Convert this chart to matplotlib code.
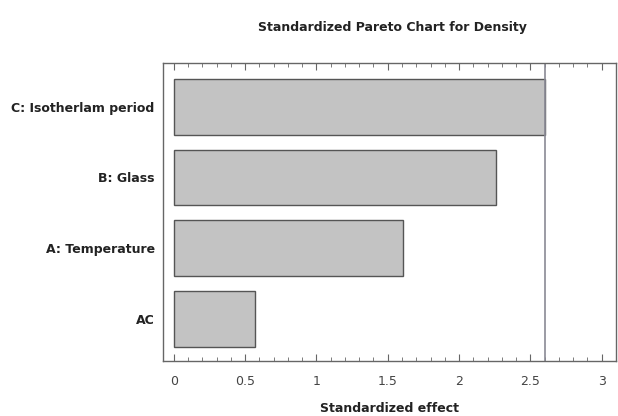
import matplotlib
matplotlib.use("Agg")
import matplotlib.pyplot as plt
from matplotlib.ticker import MultipleLocator

plt.rcParams['font.family'] = ['Liberation Sans Narrow', 'DejaVu Sans']

factors = ["AC", "A: Temperature", "B: Glass", "C: Isotherlam period"]
effects = [0.57, 1.61, 2.26, 2.60]
critical = 2.605
xticks = [0, 0.5, 1, 1.5, 2, 2.5, 3]
xtick_labels = ["0", "0.5", "1", "1.5", "2", "2.5", "3"]

fig = plt.figure(figsize=(6.18, 4.16), dpi=100)
ax = fig.add_axes([163/618, 1-361/416, (616-163)/618, (361-63)/416])

ypos = list(range(len(factors)))
ax.barh(ypos, effects, height=0.79, color="#c3c3c3", edgecolor="#555555", linewidth=1.0)
ax.axvline(critical, color="#8a8a95", linewidth=1.2)

ax.set_xlim(-0.075, 3.1)
ax.set_ylim(-0.6, 3.62)
ax.set_yticks(ypos)
ax.set_yticklabels(factors, fontsize=9, fontweight='bold', color="#222222")
ax.tick_params(axis='y', length=0, pad=6)
ax.set_xticks(xticks)
ax.set_xticklabels(xtick_labels, fontsize=9, color="#444444")
ax.xaxis.set_minor_locator(MultipleLocator(0.1))
ax.tick_params(axis='x', which='both', direction='in', top=True, bottom=True, color="#666666", pad=10)
ax.tick_params(axis='x', which='major', length=5)
ax.tick_params(axis='x', which='minor', length=3)
for s in ax.spines.values():
    s.set_color("#666666")
    s.set_linewidth(1.0)

ax.set_xlabel("Standardized effect", fontsize=9, fontweight='bold', color="#222222", labelpad=10)
fig.text(392/618, 1-28/416, "Standardized Pareto Chart for Density", ha='center', va='center',
         fontsize=9, fontweight='bold', color="#222222")

fig.savefig("out.png", dpi=100)
